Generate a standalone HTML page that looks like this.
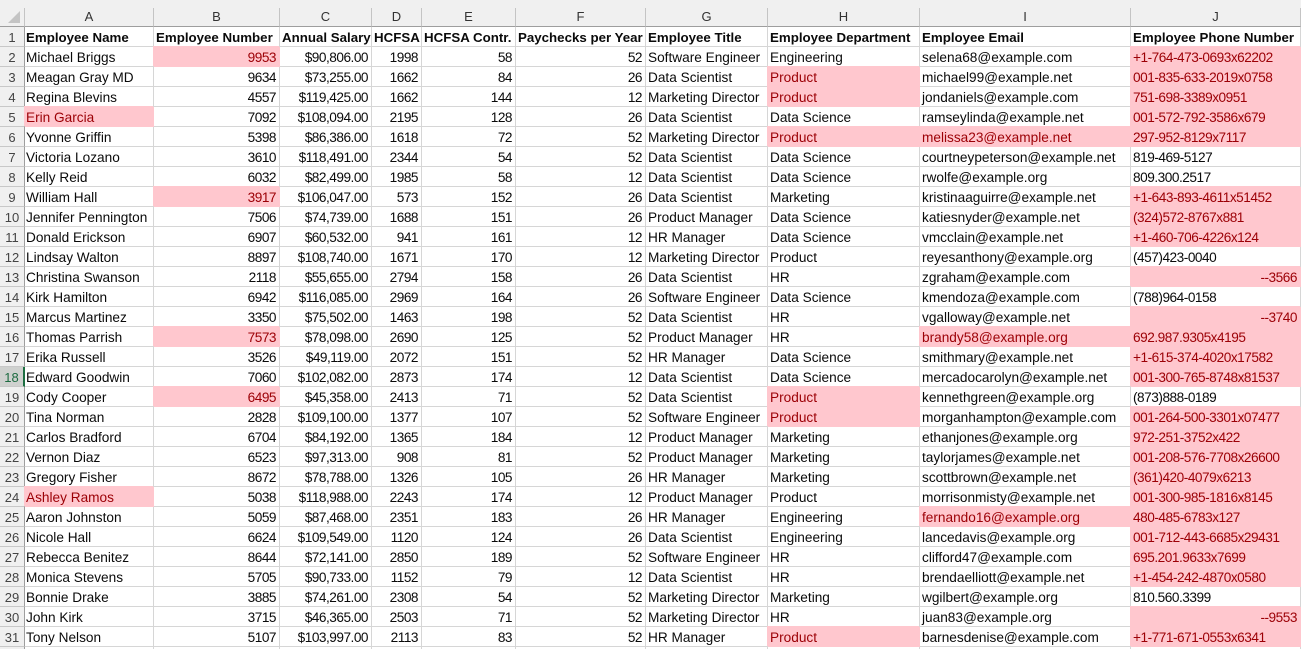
<!DOCTYPE html>
<html lang="en">
<head>
<meta charset="utf-8">
<title>Employee spreadsheet</title>
<style>
html,body{margin:0;padding:0;width:1301px;height:649px;overflow:hidden;background:#fff}
#sheet{position:relative;width:1301px;height:649px;overflow:hidden;contain:paint}
#top{position:absolute;left:0;top:0;width:1301px;height:8px;background:#f0f0f0}
table{position:absolute;left:0;top:8px;border-collapse:separate;border-spacing:0;table-layout:fixed;width:1301px;font-family:"Liberation Sans",sans-serif;font-size:13.65px;color:#0a0a0a}
td,th{box-sizing:border-box;height:20px;padding:2px 2px 0;border-right:1px solid #d6d6d6;border-bottom:1px solid #d6d6d6;white-space:nowrap;overflow:hidden;font-weight:normal;text-align:left;line-height:17px}
thead th{height:19px;padding:0;line-height:18px;background:#f0f0f0;text-align:center;border-right:1px solid #c4c4c4;border-bottom:1px solid #9e9e9e;color:#333;font-size:13px}
tbody th{background:#f0f0f0;text-align:center;border-right:1px solid #9e9e9e;border-bottom:1px solid #c8c8c8;color:#444;padding:2px 0 0;font-size:13px}
tbody th.sel{background:#cfd1cf;color:#1d6b41;border-right:2px solid #1d6f42}
td:nth-child(2){padding-left:1px}
td.n{text-align:right;padding-right:3px;letter-spacing:-.5px}
td:nth-child(11){letter-spacing:-.48px}
td.h{font-weight:bold;color:#0a0a0a;font-size:13.3px;letter-spacing:0}
td.p{background:#ffc7ce;color:#9c0006;border-right-color:#ffc7ce;border-bottom-color:#ffc7ce;position:relative;box-shadow:-1px -1px 0 #ffc7ce}
#corner{position:absolute;left:7px;top:10px}
</style>
</head>
<body>
<div id="sheet">
<div id="top"></div>
<table>
<colgroup><col style="width:25px"><col style="width:129px"><col style="width:126px"><col style="width:92px"><col style="width:50px"><col style="width:94px"><col style="width:130px"><col style="width:122px"><col style="width:152px"><col style="width:211px"><col style="width:170px"></colgroup>
<thead><tr><th></th><th>A</th><th>B</th><th>C</th><th>D</th><th>E</th><th>F</th><th>G</th><th>H</th><th>I</th><th>J</th></tr></thead>
<tbody>
<tr><th>1</th><td class="h">Employee Name</td><td class="h">Employee Number</td><td class="h">Annual Salary</td><td class="h">HCFSA</td><td class="h">HCFSA Contr.</td><td class="h">Paychecks per Year</td><td class="h">Employee Title</td><td class="h">Employee Department</td><td class="h">Employee Email</td><td class="h">Employee Phone Number</td></tr>
<tr><th>2</th><td>Michael Briggs</td><td class="n p">9953</td><td class="n">$90,806.00</td><td class="n">1998</td><td class="n">58</td><td class="n">52</td><td>Software Engineer</td><td>Engineering</td><td>selena68@example.com</td><td class="p">+1-764-473-0693x62202</td></tr>
<tr><th>3</th><td>Meagan Gray MD</td><td class="n">9634</td><td class="n">$73,255.00</td><td class="n">1662</td><td class="n">84</td><td class="n">26</td><td>Data Scientist</td><td class="p">Product</td><td>michael99@example.net</td><td class="p">001-835-633-2019x0758</td></tr>
<tr><th>4</th><td>Regina Blevins</td><td class="n">4557</td><td class="n">$119,425.00</td><td class="n">1662</td><td class="n">144</td><td class="n">12</td><td>Marketing Director</td><td class="p">Product</td><td>jondaniels@example.com</td><td class="p">751-698-3389x0951</td></tr>
<tr><th>5</th><td class="p">Erin Garcia</td><td class="n">7092</td><td class="n">$108,094.00</td><td class="n">2195</td><td class="n">128</td><td class="n">26</td><td>Data Scientist</td><td>Data Science</td><td>ramseylinda@example.net</td><td class="p">001-572-792-3586x679</td></tr>
<tr><th>6</th><td>Yvonne Griffin</td><td class="n">5398</td><td class="n">$86,386.00</td><td class="n">1618</td><td class="n">72</td><td class="n">52</td><td>Marketing Director</td><td class="p">Product</td><td class="p">melissa23@example.net</td><td class="p">297-952-8129x7117</td></tr>
<tr><th>7</th><td>Victoria Lozano</td><td class="n">3610</td><td class="n">$118,491.00</td><td class="n">2344</td><td class="n">54</td><td class="n">52</td><td>Data Scientist</td><td>Data Science</td><td>courtneypeterson@example.net</td><td>819-469-5127</td></tr>
<tr><th>8</th><td>Kelly Reid</td><td class="n">6032</td><td class="n">$82,499.00</td><td class="n">1985</td><td class="n">58</td><td class="n">12</td><td>Data Scientist</td><td>Data Science</td><td>rwolfe@example.org</td><td>809.300.2517</td></tr>
<tr><th>9</th><td>William Hall</td><td class="n p">3917</td><td class="n">$106,047.00</td><td class="n">573</td><td class="n">152</td><td class="n">26</td><td>Data Scientist</td><td>Marketing</td><td>kristinaaguirre@example.net</td><td class="p">+1-643-893-4611x51452</td></tr>
<tr><th>10</th><td>Jennifer Pennington</td><td class="n">7506</td><td class="n">$74,739.00</td><td class="n">1688</td><td class="n">151</td><td class="n">26</td><td>Product Manager</td><td>Data Science</td><td>katiesnyder@example.net</td><td class="p">(324)572-8767x881</td></tr>
<tr><th>11</th><td>Donald Erickson</td><td class="n">6907</td><td class="n">$60,532.00</td><td class="n">941</td><td class="n">161</td><td class="n">12</td><td>HR Manager</td><td>Data Science</td><td>vmcclain@example.net</td><td class="p">+1-460-706-4226x124</td></tr>
<tr><th>12</th><td>Lindsay Walton</td><td class="n">8897</td><td class="n">$108,740.00</td><td class="n">1671</td><td class="n">170</td><td class="n">12</td><td>Marketing Director</td><td>Product</td><td>reyesanthony@example.org</td><td>(457)423-0040</td></tr>
<tr><th>13</th><td>Christina Swanson</td><td class="n">2118</td><td class="n">$55,655.00</td><td class="n">2794</td><td class="n">158</td><td class="n">26</td><td>Data Scientist</td><td>HR</td><td>zgraham@example.com</td><td class="n p">--3566</td></tr>
<tr><th>14</th><td>Kirk Hamilton</td><td class="n">6942</td><td class="n">$116,085.00</td><td class="n">2969</td><td class="n">164</td><td class="n">26</td><td>Software Engineer</td><td>Data Science</td><td>kmendoza@example.com</td><td>(788)964-0158</td></tr>
<tr><th>15</th><td>Marcus Martinez</td><td class="n">3350</td><td class="n">$75,502.00</td><td class="n">1463</td><td class="n">198</td><td class="n">52</td><td>Data Scientist</td><td>HR</td><td>vgalloway@example.net</td><td class="n p">--3740</td></tr>
<tr><th>16</th><td>Thomas Parrish</td><td class="n p">7573</td><td class="n">$78,098.00</td><td class="n">2690</td><td class="n">125</td><td class="n">52</td><td>Product Manager</td><td>HR</td><td class="p">brandy58@example.org</td><td class="p">692.987.9305x4195</td></tr>
<tr><th>17</th><td>Erika Russell</td><td class="n">3526</td><td class="n">$49,119.00</td><td class="n">2072</td><td class="n">151</td><td class="n">52</td><td>HR Manager</td><td>Data Science</td><td>smithmary@example.net</td><td class="p">+1-615-374-4020x17582</td></tr>
<tr><th class="sel">18</th><td>Edward Goodwin</td><td class="n">7060</td><td class="n">$102,082.00</td><td class="n">2873</td><td class="n">174</td><td class="n">12</td><td>Data Scientist</td><td>Data Science</td><td>mercadocarolyn@example.net</td><td class="p">001-300-765-8748x81537</td></tr>
<tr><th>19</th><td>Cody Cooper</td><td class="n p">6495</td><td class="n">$45,358.00</td><td class="n">2413</td><td class="n">71</td><td class="n">52</td><td>Data Scientist</td><td class="p">Product</td><td>kennethgreen@example.org</td><td>(873)888-0189</td></tr>
<tr><th>20</th><td>Tina Norman</td><td class="n">2828</td><td class="n">$109,100.00</td><td class="n">1377</td><td class="n">107</td><td class="n">52</td><td>Software Engineer</td><td class="p">Product</td><td>morganhampton@example.com</td><td class="p">001-264-500-3301x07477</td></tr>
<tr><th>21</th><td>Carlos Bradford</td><td class="n">6704</td><td class="n">$84,192.00</td><td class="n">1365</td><td class="n">184</td><td class="n">12</td><td>Product Manager</td><td>Marketing</td><td>ethanjones@example.org</td><td class="p">972-251-3752x422</td></tr>
<tr><th>22</th><td>Vernon Diaz</td><td class="n">6523</td><td class="n">$97,313.00</td><td class="n">908</td><td class="n">81</td><td class="n">52</td><td>Product Manager</td><td>Marketing</td><td>taylorjames@example.net</td><td class="p">001-208-576-7708x26600</td></tr>
<tr><th>23</th><td>Gregory Fisher</td><td class="n">8672</td><td class="n">$78,788.00</td><td class="n">1326</td><td class="n">105</td><td class="n">26</td><td>HR Manager</td><td>Marketing</td><td>scottbrown@example.net</td><td class="p">(361)420-4079x6213</td></tr>
<tr><th>24</th><td class="p">Ashley Ramos</td><td class="n">5038</td><td class="n">$118,988.00</td><td class="n">2243</td><td class="n">174</td><td class="n">12</td><td>Product Manager</td><td>Product</td><td>morrisonmisty@example.net</td><td class="p">001-300-985-1816x8145</td></tr>
<tr><th>25</th><td>Aaron Johnston</td><td class="n">5059</td><td class="n">$87,468.00</td><td class="n">2351</td><td class="n">183</td><td class="n">26</td><td>HR Manager</td><td>Engineering</td><td class="p">fernando16@example.org</td><td class="p">480-485-6783x127</td></tr>
<tr><th>26</th><td>Nicole Hall</td><td class="n">6624</td><td class="n">$109,549.00</td><td class="n">1120</td><td class="n">124</td><td class="n">26</td><td>Data Scientist</td><td>Engineering</td><td>lancedavis@example.org</td><td class="p">001-712-443-6685x29431</td></tr>
<tr><th>27</th><td>Rebecca Benitez</td><td class="n">8644</td><td class="n">$72,141.00</td><td class="n">2850</td><td class="n">189</td><td class="n">52</td><td>Software Engineer</td><td>HR</td><td>clifford47@example.com</td><td class="p">695.201.9633x7699</td></tr>
<tr><th>28</th><td>Monica Stevens</td><td class="n">5705</td><td class="n">$90,733.00</td><td class="n">1152</td><td class="n">79</td><td class="n">12</td><td>Data Scientist</td><td>HR</td><td>brendaelliott@example.net</td><td class="p">+1-454-242-4870x0580</td></tr>
<tr><th>29</th><td>Bonnie Drake</td><td class="n">3885</td><td class="n">$74,261.00</td><td class="n">2308</td><td class="n">54</td><td class="n">52</td><td>Marketing Director</td><td>Marketing</td><td>wgilbert@example.org</td><td>810.560.3399</td></tr>
<tr><th>30</th><td>John Kirk</td><td class="n">3715</td><td class="n">$46,365.00</td><td class="n">2503</td><td class="n">71</td><td class="n">52</td><td>Marketing Director</td><td>HR</td><td>juan83@example.org</td><td class="n p">--9553</td></tr>
<tr><th>31</th><td>Tony Nelson</td><td class="n">5107</td><td class="n">$103,997.00</td><td class="n">2113</td><td class="n">83</td><td class="n">52</td><td>HR Manager</td><td class="p">Product</td><td>barnesdenise@example.com</td><td class="p">+1-771-671-0553x6341</td></tr>
<tr><th></th><td></td><td></td><td></td><td></td><td></td><td></td><td></td><td></td><td></td><td></td></tr>
</tbody>
</table>
<svg id="corner" width="14" height="14"><polygon points="13,1 13,13 1,13" fill="#c4c4c4"/></svg>
</div>
</body>
</html>
